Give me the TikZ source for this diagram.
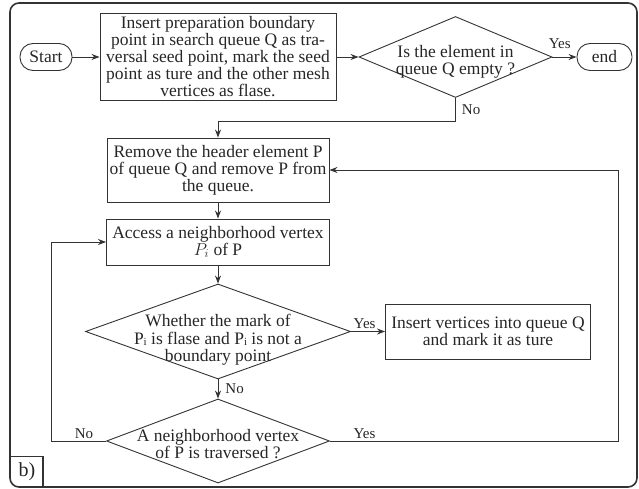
\documentclass[tikz,border=0pt]{standalone}
\usepackage{fontspec}
\setmainfont{Liberation Serif}
\usetikzlibrary{shapes.geometric,positioning,arrows.meta}

\newcommand{\dtext}[2][-.75em]{\makebox[0pt]{\smash{\raisebox{#1}{\begin{tabular}{@{}c@{}}#2\end{tabular}}}}}
\newcommand{\sub}[1]{\raisebox{-1.5pt}{\fontsize{11}{11}\selectfont #1}}

\begin{document}
\begin{tikzpicture}[->,>={Stealth[length=8pt,width=6pt]},x=1pt,y=-1pt,line width=0.9pt,color=black!80,text=black!85,
font=\fontsize{17.5}{17}\selectfont,
proc/.style={draw,rectangle,align=center,inner sep=0pt},
term/.style={draw,rounded corners=13pt,minimum height=27pt,inner sep=0pt},
dec/.style={draw,diamond,inner sep=0pt},
lab/.style={font=\fontsize{15}{15}\selectfont,inner sep=2pt}]
\useasboundingbox (0,0) rectangle (639,489);
\draw[-,line width=1.6pt,rounded corners=9pt] (10,3) rectangle (637,487);

\node[term,minimum width=52pt] (start) at (46,57) {Start};
\node[proc,minimum width=236pt,minimum height=87pt][right of=start,node distance=172pt] (insert)
  {Insert preparation boundary\\point in search queue Q as tra-\\versal seed point, mark the seed\\point as ture and the other mesh\\vertices as flase.};
\node[dec,minimum width=193pt,minimum height=81pt][right of=insert,node distance=237.5pt] (empty)
  {\dtext[-.55em]{Is the element in\\queue Q empty ?}};
\node[term,minimum width=55pt][right of=empty,node distance=149pt] (end) {end};
\node[proc,minimum width=222pt,minimum height=64pt][below of=insert,node distance=113pt] (remove)
  {Remove the header element P\\of queue Q and remove P from\\the queue.};
\node[proc,minimum width=223pt,minimum height=46pt][below of=remove,node distance=72pt] (access)
  {Access a neighborhood vertex\\$P_i$ of P};
\node[dec,minimum width=265pt,minimum height=95pt][below of=access,node distance=89.5pt] (mark)
  {\dtext{Whether the mark of\\P\sub{i} is flase and P\sub{i} is not a\\boundary point}};
\node[proc,minimum width=205pt,minimum height=55pt][right of=mark,node distance=270pt] (push)
  {Insert vertices into queue Q\\and mark it as ture};
\node[dec,minimum width=223pt,minimum height=84pt][below of=mark,node distance=109.5pt] (done)
  {\dtext[-.55em]{A neighborhood vertex\\of P is traversed ?}};
\node[anchor=south west,minimum width=31pt,minimum height=30pt,inner sep=0pt,font=\fontsize{20}{20}\selectfont] (tag) at (11,487) {b)};

\path (start) edge (insert)
      (insert) edge (empty)
      (empty) edge node[lab,above,pos=0.3,yshift=6pt]{Yes} (end)
      (remove) edge (access)
      (access) edge (mark)
      (mark) edge node[lab,above,pos=0.4]{Yes} (push)
      (mark) edge node[lab,right,xshift=5pt]{No} (done)
;
\draw (empty.south) -- ++(0,24) node[lab,midway,right,xshift=4pt]{No} -| (remove.north);
\draw (done.west) -- ++(-55,0) node[lab,above,pos=0.4]{No} |- (access.west);
\draw (done.east) -- ++(288.5,0) node[lab,above,pos=0.12]{Yes} |- (remove.east);
\draw[-,line width=1.2pt] (tag.north west) -| (tag.south east);
\end{tikzpicture}
\end{document}
